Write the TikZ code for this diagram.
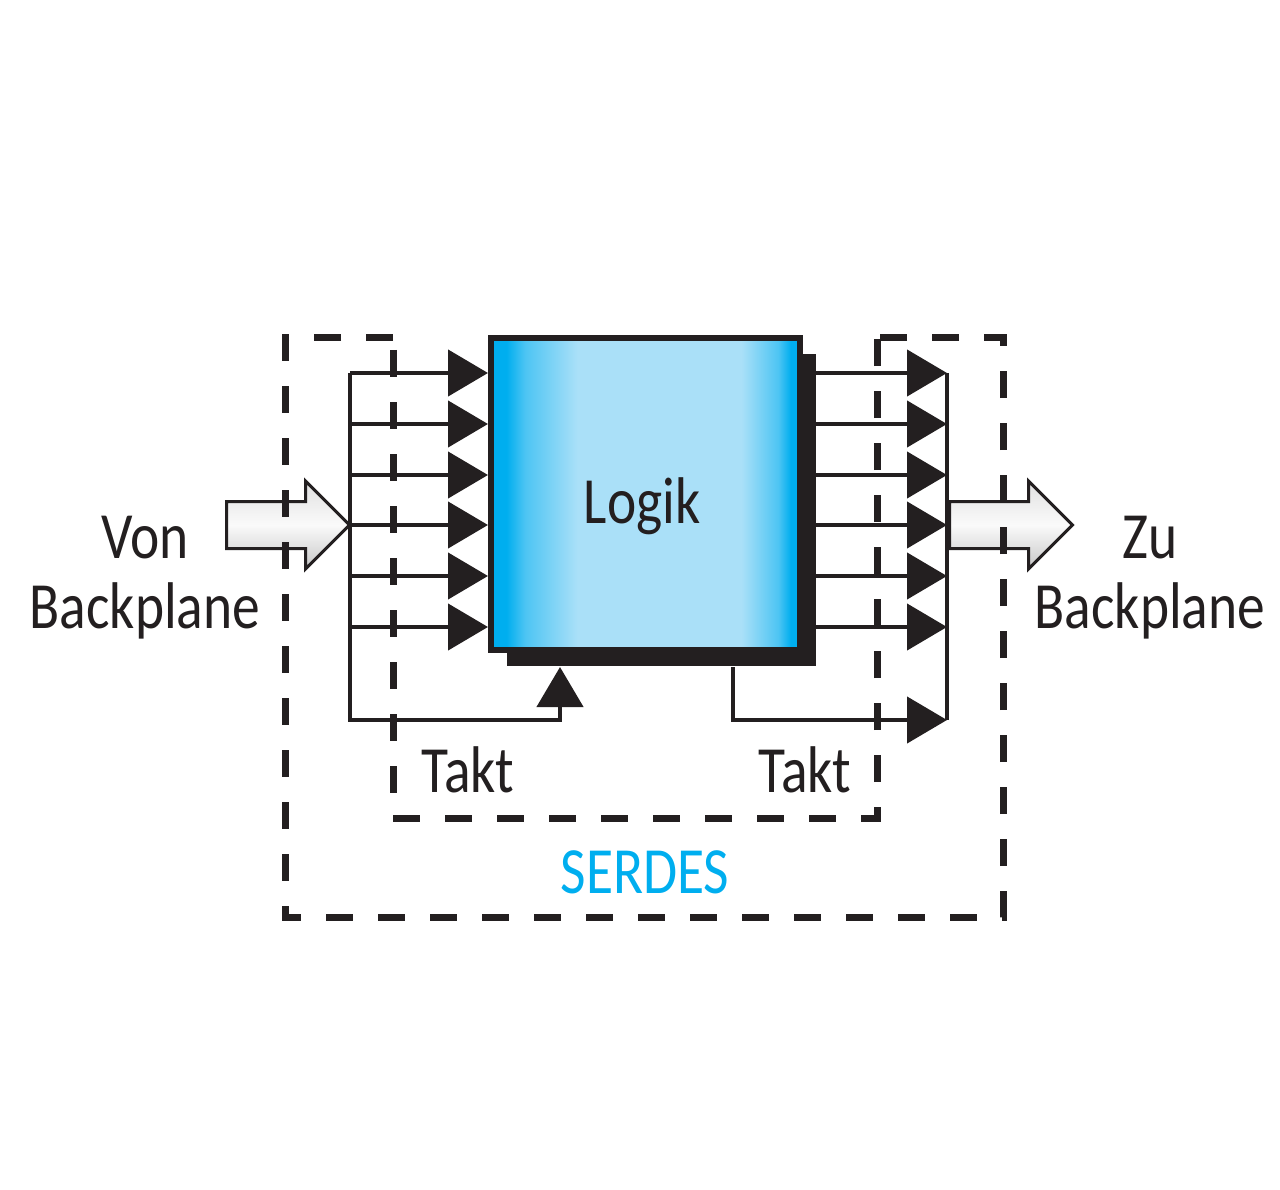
\documentclass[tikz,border=0pt]{standalone}
\usepackage{fontspec}
\setmainfont{Carlito}[FakeStretch=0.84]
\usepackage{tikz}
\usetikzlibrary{arrows.meta, shapes.arrows, shadows}
\definecolor{sdink}{HTML}{231F20}
\definecolor{sdcyan}{HTML}{00AEEF}
\definecolor{sdlight}{HTML}{AAE0F8}
\colorlet{sdmid}{sdcyan!55!sdlight}
\pgfdeclarehorizontalshading{sdcore}{100bp}{color(0bp)=(sdcyan); color(27.5bp)=(sdcyan); color(30.5bp)=(sdmid); color(39bp)=(sdlight);
  color(65.5bp)=(sdlight); color(71.5bp)=(sdmid); color(73.5bp)=(sdcyan); color(100bp)=(sdcyan)}

\begin{document}
\begin{tikzpicture}[x=1pt, y=-1pt,
      txt/.style={font=\fontsize{66}{70}\selectfont, color=sdink, inner sep=0pt},
      sig/.style={line width=4.5pt, color=sdink},
      tip/.style={sig, -{Triangle[length=40pt, width=46pt]}},
      zone/.style={line width=7pt, color=sdink, dash pattern=on 27pt off 25pt},
      bigarrow/.style={single arrow, anchor=tail, draw=sdink, line width=3pt, top color=black!12, bottom color=black!22, middle color=black!2,
                       minimum height=123pt, inner xsep=0pt, inner ysep=22pt, single arrow head extend=20.5pt, single arrow head indent=0pt},
      core/.style={draw=sdink, line width=6pt, shading=sdcore, inner sep=0pt,
                   minimum width=309pt, minimum height=312pt,
                   drop shadow={shadow xshift=16pt, shadow yshift=-16pt, fill=sdink, opacity=1}}]

      \useasboundingbox (0,0) rectangle (1280,1190);

      \node[bigarrow] (inarr) at (225,525) {};
      \node[bigarrow] (outarr) at (948,525) {};

      \draw[zone] (393,338) -- (285,338) -- (285,917) -- (1003,917) -- (1003,338) -- (877,338);
      \draw[zone] (393,350) -- (393,818) -- (877,818) -- (877,338);

      \node[core] (logik) at (645.5,494) {};
      \node[txt, anchor=base] (logiklbl) at (642,523) {Logik};

      \foreach \i/\yy in {1/373, 2/424, 3/475, 4/525, 5/576, 6/627} {
        \coordinate (in\i) at (350,\yy);
        \coordinate (out\i) at (947,\yy);
        \draw[tip] (in\i) -- (in\i -| logik.west);
        \draw[tip] (out\i -| logik.east) -- (out\i);
      }

      \coordinate (inbus) at (350,720);
      \coordinate (clkin) at (560,667);
      \draw[tip] (in1) -- (inbus) -| (clkin);

      \coordinate (outbus) at (947,720);
      \coordinate (clkout) at (733,667);
      \draw[tip] (clkout) |- (outbus);
      \draw[sig] (out1) -- (outbus);

      \node[txt, anchor=base, align=center] (von) at (145,628) {Von\\Backplane};
      \node[txt, anchor=base, align=center] (zu) at (1150,628) {Zu\\Backplane};
      \node[txt, anchor=base] (taktin) at (468,792) {Takt};
      \node[txt, anchor=base] (taktout) at (805,792) {Takt};
      \node[txt, anchor=base, color=sdcyan] (serdes) at (645,893) {SERDES};
    \end{tikzpicture}
\end{document}
